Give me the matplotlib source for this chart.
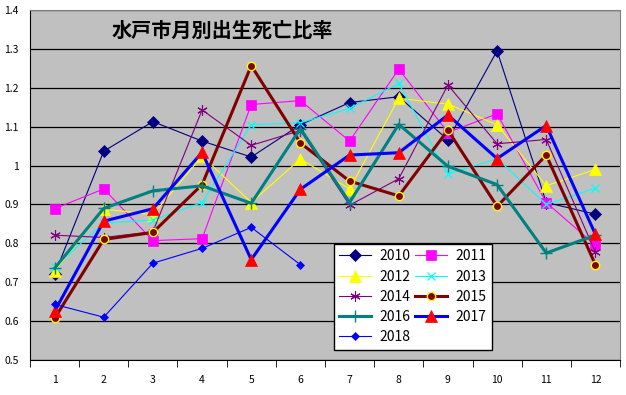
import matplotlib.pyplot as plt

plt.rcParams['font.family'] = ['Noto Sans CJK JP', 'DejaVu Sans']

months = list(range(1, 13))

y2010 = [0.72, 1.037, 1.113, 1.063, 1.022, 1.105, 1.162, 1.177, 1.066, 1.295, 0.905, 0.875]
y2011 = [0.889, 0.94, 0.807, 0.812, 1.157, 1.167, 1.063, 1.248, 1.085, 1.133, 0.905, 0.795]
y2012 = [0.729, 0.888, 0.874, 1.024, 0.905, 1.017, 0.94, 1.173, 1.158, 1.105, 0.948, 0.99]
y2013 = [0.74, 0.852, 0.86, 0.905, 1.105, 1.11, 1.147, 1.211, 0.978, 1.018, 0.9, 0.942]
y2014 = [0.821, 0.815, 0.83, 1.143, 1.052, 1.09, 0.898, 0.966, 1.207, 1.056, 1.067, 0.777]
y2015 = [0.607, 0.81, 0.828, 0.951, 1.257, 1.058, 0.96, 0.922, 1.091, 0.895, 1.027, 0.745]
y2016 = [0.736, 0.89, 0.935, 0.948, 0.903, 1.095, 0.905, 1.106, 0.998, 0.951, 0.775, 0.821]
y2017 = [0.625, 0.857, 0.889, 1.034, 0.758, 0.939, 1.027, 1.033, 1.13, 1.018, 1.103, 0.823]
y2018 = [0.643, 0.61, 0.749, 0.787, 0.841, 0.745]

# (label, values, line colour, line width, marker, marker size, face, edge, edge width)
series = [
    ("2010", y2010, "#000080", 0.8, "D", 6, "#000080", "#000080", 0.5),
    ("2011", y2011, "#FF00FF", 0.8, "s", 7, "#FF00FF", "#FF00FF", 0.5),
    ("2012", y2012, "#FFFF00", 0.8, "^", 8, "#FFFF00", "#FFFF00", 0.5),
    ("2013", y2013, "#00FFFF", 0.8, "x", 6, "#00FFFF", "#00FFFF", 0.9),
    ("2014", y2014, "#800080", 0.8, (6, 2, 0), 7.5, "#800080", "#800080", 0.8),
    ("2015", y2015, "#800000", 2.2, "o", 6, "#800000", "#FFFF00", 1.0),
    ("2016", y2016, "#008080", 2.2, "+", 9, "#008080", "#008080", 1.0),
    ("2017", y2017, "#0000FF", 2.2, "^", 8, "#FF0000", "#FF0000", 0.5),
    ("2018", y2018, "#0000FF", 0.8, "D", 4.5, "#0000FF", "#0000FF", 0.5),
]

fig = plt.figure(figsize=(6.26, 3.95), dpi=100)
ax = fig.add_axes([30 / 626, 35 / 395, 590 / 626, 350 / 395])
ax.set_facecolor("#C0C0C0")

handles = {}
for label, vals, col, lw, mk, ms, fc, ec, mew in series:
    h, = ax.plot(months[:len(vals)], vals, color=col, lw=lw, marker=mk, ms=ms,
                 markerfacecolor=fc, markeredgecolor=ec, markeredgewidth=mew, label=label)
    handles[label] = h

ax.set_xlim(0.5, 12.5)
ax.set_ylim(0.5, 1.4)
yt = [0.5 + 0.1 * i for i in range(10)]
ax.set_yticks(yt)
ax.set_yticklabels([f"{v:g}" for v in [round(t, 1) for t in yt]])
ax.set_xticks(months)
ax.set_xticks([m + 0.5 for m in range(0, 13)], minor=True)
ax.tick_params(axis="x", which="major", length=0, pad=11, labelsize=7.5)
ax.tick_params(axis="x", which="minor", length=5, direction="out", color="black")
ax.tick_params(axis="y", length=0, pad=8, labelsize=7.5)
ax.set_axisbelow(True)
ax.yaxis.grid(True, color="black", lw=0.9)

ax.spines["left"].set_color("black")
ax.spines["bottom"].set_color("black")
ax.spines["top"].set_color("#808080")
ax.spines["right"].set_color("#808080")

fig.text(112 / 626, 1 - 30 / 395, "水戸市月別出生死亡比率", fontsize=14.5,
         fontweight="bold", va="center", ha="left")

order = ["2010", "2012", "2014", "2016", "2018", "2011", "2013", "2015", "2017"]
leg = ax.legend([handles[k] for k in order], order, ncol=2, loc="lower left",
                bbox_to_anchor=(0.515, 0.029, 0.268, 0.345), mode="expand",
                fontsize=10, frameon=True, fancybox=False, framealpha=1,
                edgecolor="black", handlelength=2.3, borderaxespad=0,
                labelspacing=0.45, columnspacing=1.0, handletextpad=0.6)
leg.get_frame().set_linewidth(1.0)

fig.savefig("out.png", dpi=100)
